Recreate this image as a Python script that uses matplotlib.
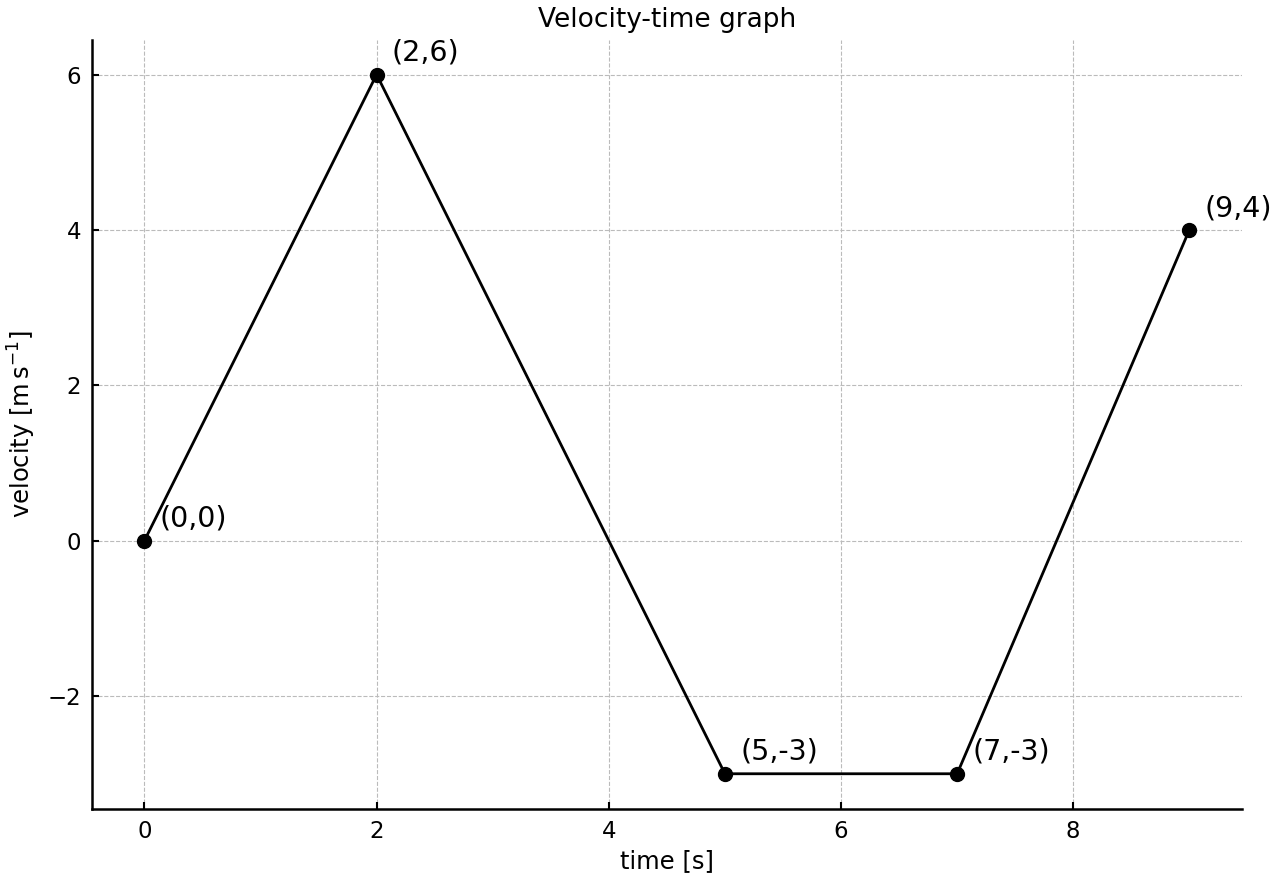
import matplotlib
matplotlib.use("Agg")
import matplotlib.pyplot as plt

times = [0, 2, 5, 7, 9]
velocities = [0, 6, -3, -3, 4]
point_labels = ["(0,0)", "(2,6)", "(5,-3)", "(7,-3)", "(9,4)"]

fig, ax = plt.subplots(figsize=(12.8, 8.8), dpi=100)
ax.plot(times, velocities, color="black", linewidth=2, marker="o", markersize=10, zorder=3)
for t, v, lab in zip(times, velocities, point_labels):
    ax.annotate(lab, (t, v), xytext=(11, 10), textcoords="offset points", fontsize=20.5)

ax.set_title("Velocity-time graph", fontsize=19, pad=9)
ax.set_xlabel("time [s]", fontsize=17.5, labelpad=4.5)
ax.set_ylabel(r"velocity [m$\,$s$^{-1}$]", fontsize=17.5, labelpad=7)
ax.tick_params(direction="in", labelsize=16.5, length=5, width=1.5, pad=8)
ax.grid(True, linestyle="--", color="#bbbbbb", linewidth=0.8)
ax.set_axisbelow(True)
for s in ["top", "right"]:
    ax.spines[s].set_visible(False)
for s in ["left", "bottom"]:
    ax.spines[s].set_linewidth(1.8)

fig.subplots_adjust(left=0.072, right=0.97, bottom=0.081, top=0.955)
fig.savefig("out.png", dpi=100)
